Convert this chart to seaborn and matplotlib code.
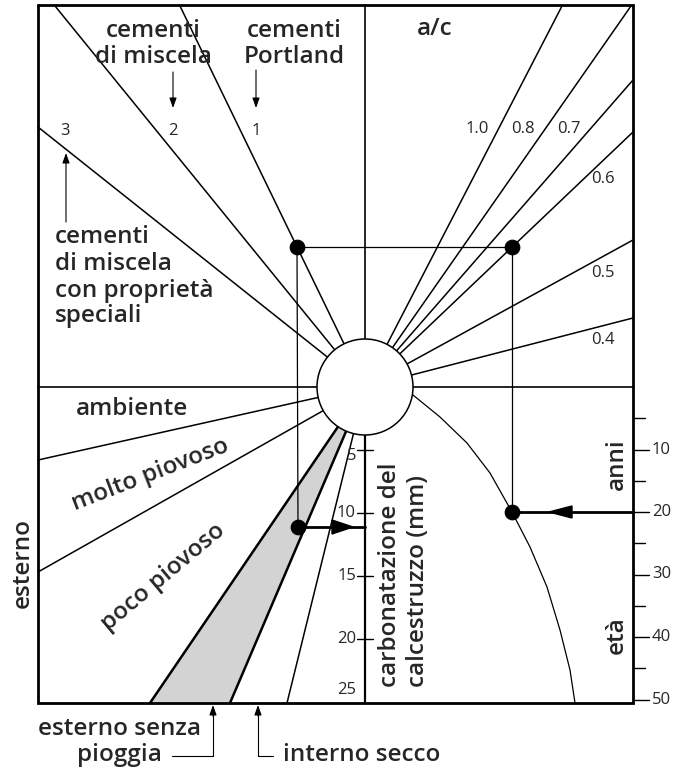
import numpy as np
import pandas as pd
import matplotlib
matplotlib.use("Agg")
import matplotlib.pyplot as plt
from matplotlib.patches import Circle, Polygon
import seaborn as sns

# nomogram laid out in picture units (x to the right, y downwards)
frame_x = [38, 633]
frame_y = [5, 703]
centre_x, centre_y, hub_r = 365, 387, 48

# cement type rays (upper left)
cement_types = ["3", "2", "1"]
cement_end_x = [38, 55, 180]
cement_end_y = [127, 6, 6]

# water/cement ratio rays (upper right)
ac_ratios = ["1.0", "0.8", "0.7", "0.6", "0.5", "0.4"]
ac_end_x = [562, 631, 633, 633, 633, 633]
ac_end_y = [6, 6, 80, 132, 240, 318]
ac_label_x = [477, 523, 569, 603, 603, 603]
ac_label_y = [129, 129, 129, 179, 273, 340]

# exposure rays (lower left)
expo_end_x = [38, 38, 150, 230, 287]
expo_end_y = [460, 572, 703, 703, 703]

# carbonation depth scale (mm) and age scale (years)
carb_mm = [5, 10, 15, 20, 25]
px_per_mm = 12.6
age_major = [10, 20, 30, 40, 50]
age_minor = [5, 15, 25, 35, 45]
px_per_year = 6.25

# age curve (lower right)
curve_x = [413, 440, 467, 490, 512, 530, 547, 560, 570, 575]
curve_y = [395, 417, 443, 473, 512, 547, 587, 630, 670, 703]

# worked example: Portland cement, a/c 0.6, 20 years
example_dots = pd.DataFrame({"x": [297, 512, 512, 298], "y": [247, 247, 512, 527]})

sns.set_theme(style="white")
plt.rcParams["font.family"] = ["Open Sans", "DejaVu Sans"]
plt.rcParams["font.weight"] = "semibold"

fig = plt.figure(figsize=(6.74, 7.73), dpi=100)
ax = fig.add_axes([0, 0, 1, 1])
ax.set_xlim(0, 674)
ax.set_ylim(773, 0)
ax.axis("off")

K = "black"
big = 17.5
small = 12
num = dict(fontsize=small, fontweight="normal")

# frame
ax.plot([frame_x[0], frame_x[1], frame_x[1], frame_x[0], frame_x[0]],
        [frame_y[0], frame_y[0], frame_y[1], frame_y[1], frame_y[0]],
        color=K, lw=2.0, solid_joinstyle="miter")
# main cross through the hub
ax.plot(frame_x, [centre_y, centre_y], color=K, lw=1.2)
ax.plot([centre_x, centre_x], [frame_y[0], centre_y], color=K, lw=1.2)
ax.plot([centre_x, centre_x], [centre_y, frame_y[1]], color=K, lw=1.6)

# shaded band "esterno senza pioggia"
band = Polygon([(centre_x, centre_y), (expo_end_x[2], expo_end_y[2]),
                (expo_end_x[3], expo_end_y[3])], closed=True,
               facecolor="#d3d3d3", edgecolor="none", zorder=1)
ax.add_patch(band)

for ex, ey in zip(cement_end_x, cement_end_y):
    ax.plot([centre_x, ex], [centre_y, ey], color=K, lw=1.1)
for ex, ey in zip(ac_end_x, ac_end_y):
    ax.plot([centre_x, ex], [centre_y, ey], color=K, lw=1.1)
for i, (ex, ey) in enumerate(zip(expo_end_x, expo_end_y)):
    ax.plot([centre_x, ex], [centre_y, ey], color=K, lw=1.8 if i in (2, 3) else 1.1)

# age curve
sns.lineplot(x=curve_x, y=curve_y, sort=False, color=K, lw=0.9, ax=ax, estimator=None)

# hub circle
ax.add_patch(Circle((centre_x, centre_y), hub_r, facecolor="white",
                    edgecolor=K, lw=1.1, zorder=5))

# example path
d = example_dots
ax.plot([d.x[0], d.x[1]], [d.y[0], d.y[1]], color=K, lw=0.9)
ax.plot([d.x[0], d.x[3]], [d.y[0], d.y[3]], color=K, lw=0.9)
ax.plot([d.x[1], d.x[2]], [d.y[1], d.y[2]], color=K, lw=0.9)
ax.plot([d.x[2], frame_x[1]], [d.y[2], d.y[2]], color=K, lw=2.0)
ax.plot([d.x[3], centre_x], [d.y[3], d.y[3]], color=K, lw=2.0)
ax.add_patch(Polygon([(549, d.y[2]), (572, d.y[2] - 6), (572, d.y[2] + 6)],
                     closed=True, color=K, zorder=6))
ax.add_patch(Polygon([(353, d.y[3]), (332, d.y[3] - 7), (332, d.y[3] + 7)],
                     closed=True, color=K, zorder=6))
sns.scatterplot(data=d, x="x", y="y", color=K, s=110, edgecolor=K, zorder=7,
                ax=ax, legend=False)

# carbonation scale
for mm in carb_mm:
    ty = centre_y + mm * px_per_mm
    if mm < 25:
        ax.plot([357, 373], [ty, ty], color=K, lw=1.0)
        ax.text(356, ty + (6 if mm == 5 else 0), str(mm), ha="right", va="center", **num)
    else:
        ax.text(356, ty - 12, str(mm), ha="right", va="center", **num)

# age scale
for yr in age_major:
    ty = centre_y + yr * px_per_year
    ax.plot([frame_x[1], frame_x[1] + 16], [ty, ty], color=K, lw=1.0)
    ax.text(652, ty, str(yr), ha="left", va="center", **num)
for yr in age_minor:
    ty = centre_y + yr * px_per_year
    ax.plot([frame_x[1], frame_x[1] + 12], [ty, ty], color=K, lw=1.0)

# ray labels
for lab, lx, ly in zip(cement_types, [65, 173, 256], [131, 131, 131]):
    ax.text(lx, ly, lab, ha="center", va="center", **num)
for lab, lx, ly in zip(ac_ratios, ac_label_x, ac_label_y):
    ax.text(lx, ly, lab, ha="center", va="center", **num)


def lines_at(x, baselines, words, ha="center"):
    for b, w in zip(baselines, words):
        ax.text(x, b, w, ha=ha, va="baseline", fontsize=big)


lines_at(153, [37, 63], ["cementi", "di miscela"])
lines_at(294, [37, 63], ["cementi", "Portland"])
lines_at(435, [35], ["a/c"])
lines_at(55, [243, 270, 297, 322],
         ["cementi", "di miscela", "con proprietà", "speciali"], ha="left")
lines_at(132, [415], ["ambiente"])
lines_at(119, [735, 761], ["esterno senza", "pioggia"])
lines_at(283, [761], ["interno secco"], ha="left")

ax.text(150, 475, "molto piovoso", rotation=21, rotation_mode="anchor",
        ha="center", va="center", fontsize=big)
ax.text(163, 577, "poco piovoso", rotation=40, rotation_mode="anchor",
        ha="center", va="center", fontsize=big)
ax.text(23, 563, "esterno", rotation=90, ha="center", va="center", fontsize=big)
ax.text(617, 464, "anni", rotation=90, ha="center", va="center", fontsize=big)
ax.text(617, 635, "età", rotation=90, ha="center", va="center", fontsize=big)
ax.text(390, 687, "carbonatazione del", rotation=90, ha="center", va="bottom",
        fontsize=big)
ax.text(418, 687, "calcestruzzo (mm)", rotation=90, ha="center", va="bottom",
        fontsize=big)

# pointer arrows
arrow = dict(arrowstyle="-|>,head_length=0.5,head_width=0.18", color=K, lw=0.8,
             shrinkA=0, shrinkB=0)
ax.annotate("", xy=(173, 108), xytext=(173, 72), arrowprops=arrow)
ax.annotate("", xy=(256, 108), xytext=(256, 70), arrowprops=arrow)
ax.annotate("", xy=(66, 153), xytext=(66, 222), arrowprops=arrow)
ax.plot([172, 213, 213], [756, 756, 715], color=K, lw=0.8)
ax.annotate("", xy=(213, 705), xytext=(213, 716), arrowprops=arrow)
ax.plot([273, 258, 258], [756, 756, 715], color=K, lw=0.8)
ax.annotate("", xy=(258, 705), xytext=(258, 716), arrowprops=arrow)

fig.savefig("out.png", dpi=100, facecolor="white")
